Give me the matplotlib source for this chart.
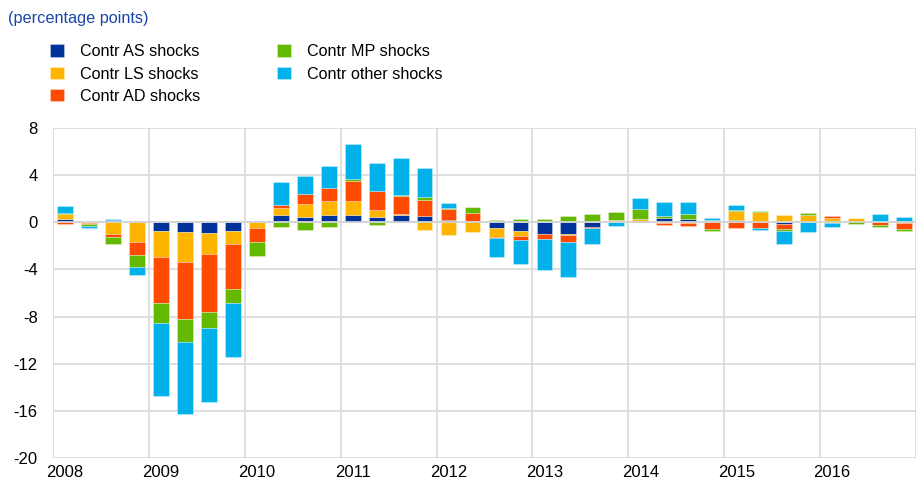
import numpy as np
import matplotlib
matplotlib.use("Agg")
import matplotlib.pyplot as plt

plt.rcParams['font.family'] = ['Liberation Sans', 'DejaVu Sans']
plt.rcParams['axes.unicode_minus'] = False

# quarterly contributions, 2008Q1 - 2016Q4
years = [2008, 2009, 2010, 2011, 2012, 2013, 2014, 2015, 2016]
contr_as = [0.25, 0, 0.2, 0, -0.73, -0.85, -0.93, -0.7, 0, 0.6, 0.42, 0.6,
            0.65, 0.45, 0.65, 0.54, 0.2, 0.08, -0.5, -0.7, -0.96, -0.96, -0.37, 0,
            0.15, 0.34, 0.3, 0.08, 0.22, 0, -0.14, 0, 0, 0, 0, 0]
contr_ls = [0.45, -0.05, -1.0, -1.7, -2.2, -2.5, -1.72, -1.13, -0.45, 0.6, 1.1, 1.24,
            1.16, 0.62, 0.05, -0.62, -1.1, -0.85, -0.76, -0.5, 0, -0.14, 0, 0.2,
            0.14, -0.05, -0.05, 0.14, 0.73, 0.85, 0.6, 0.6, 0.4, 0.35, 0, -0.1]
contr_ad = [-0.15, -0.12, -0.25, -1.1, -3.93, -4.86, -5.0, -3.84, -1.2, 0.25, 0.9, 1.05,
            1.7, 1.6, 1.52, 1.36, 0.9, 0.68, -0.1, -0.3, -0.42, -0.54, -0.1, 0,
            0, -0.15, -0.3, -0.6, -0.5, -0.48, -0.42, 0, 0.1, 0, -0.2, -0.5]
contr_mp = [0.1, -0.17, -0.6, -1.0, -1.72, -1.92, -1.36, -1.19, -1.2, -0.4, -0.62, -0.4,
            0.2, -0.23, 0.11, 0.25, 0.1, 0.54, 0.17, 0.28, 0.25, 0.5, 0.7, 0.7,
            0.85, 0.17, 0.4, -0.1, 0.1, 0.1, -0.17, 0.15, -0.1, -0.12, -0.2, -0.17]
contr_other = [0.55, -0.15, 0.1, -0.65, -6.2, -6.16, -6.2, -4.6, 0.08, 2.0, 1.5, 1.92,
               2.94, 2.34, 3.1, 2.43, 0.4, 0, -1.6, -2.0, -2.7, -3.0, -1.33, -0.35,
               0.88, 1.24, 1.0, 0.14, 0.4, -0.2, -1.13, -0.8, -0.3, 0, 0.73, 0.45]

series = [("Contr AS shocks", contr_as, "#003299"),
          ("Contr LS shocks", contr_ls, "#FFB400"),
          ("Contr AD shocks", contr_ad, "#FF4B00"),
          ("Contr MP shocks", contr_mp, "#65B800"),
          ("Contr other shocks", contr_other, "#00B1EA")]

fig = plt.figure(figsize=(9.16, 4.83), dpi=100)
ax = fig.add_axes([53/916, 1-458/483, 1-53/916, 330/483])

x = np.arange(len(contr_as))
pos_base = np.zeros(len(x))
neg_base = np.zeros(len(x))
handles = {}
for name, vals, col in series:
    v = np.array(vals, dtype=float)
    bottom = np.where(v >= 0, pos_base, neg_base)
    b = ax.bar(x, v, width=0.66, bottom=bottom, color=col, linewidth=0.6,
               edgecolor=(1, 1, 1, 0.35), zorder=2, label=name)
    handles[name] = b
    pos_base += np.clip(v, 0, None)
    neg_base += np.clip(v, None, 0)

# zero line over the bars
ax.axhline(0, color="#d4d4d4", lw=1.3, zorder=3)

ax.set_ylim(-20, 8)
ax.set_yticks(np.arange(-20, 9, 4))
ax.set_xlim(-0.5, 35.1)
ax.set_xticks(np.arange(0, 36, 4))
ax.set_xticklabels([str(y) for y in years])
ax.set_xticks(np.arange(-0.5, 36, 4), minor=True)

ax.grid(axis="y", color="#d9d9d9", lw=1.2, zorder=0)
ax.grid(axis="x", which="minor", color="#d9d9d9", lw=1.2, zorder=0)
ax.tick_params(axis="both", which="both", length=0, labelsize=12, colors="#000000")
ax.tick_params(axis="y", pad=11)
ax.tick_params(axis="x", pad=5)
for s in ax.spines.values():
    s.set_visible(False)

fig.text(8/916, 1-18/483, "(percentage points)", color="#1a45a8", fontsize=11.7,
         va="center", ha="left")

order = ["Contr AS shocks", "Contr LS shocks", "Contr AD shocks",
         "Contr MP shocks", "Contr other shocks"]
leg = fig.legend([handles[n] for n in order], order, ncol=2,
                 loc="upper left", bbox_to_anchor=(44/916, 1-38/483),
                 frameon=False, fontsize=11.6, handlelength=0.85, handleheight=0.85,
                 handletextpad=1.0, columnspacing=4.75, labelspacing=0.44,
                 borderaxespad=0)

fig.savefig("out.png", dpi=100)
